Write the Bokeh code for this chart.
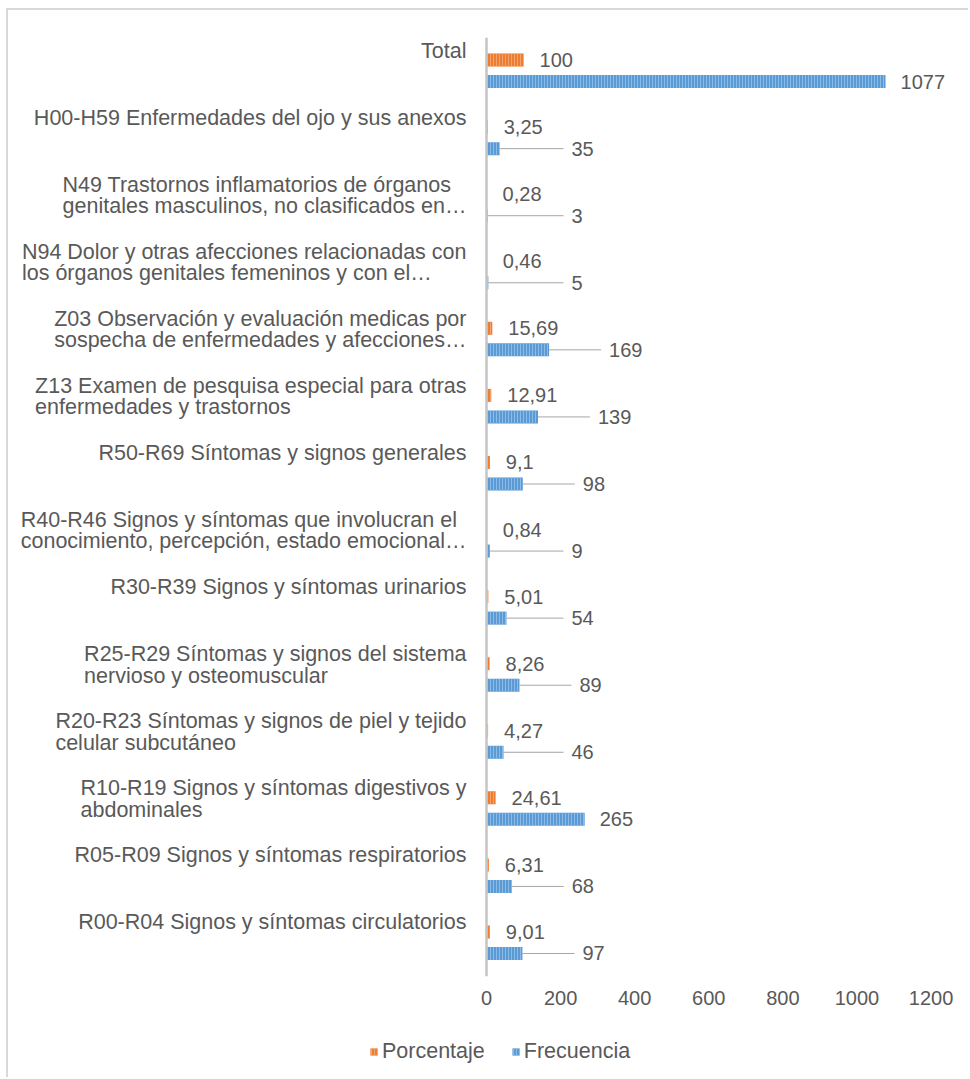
from bokeh.plotting import figure
from bokeh.layouts import column
from bokeh.models import (FactorRange, Range1d, FixedTicker, LinearAxis, Span,
                          Legend, LegendItem, ColumnDataSource)
from bokeh.transform import dodge
from bokeh.core.properties import value
from bokeh.embed import file_html
from bokeh.resources import INLINE

# ---------------- data (top to bottom as in the chart) ----------------
categories = [
    "Total",
    "H00-H59 Enfermedades del ojo y sus anexos",
    "N49 Trastornos inflamatorios de órganos\ngenitales masculinos, no clasificados en…",
    "N94 Dolor y otras afecciones relacionadas con\nlos órganos genitales femeninos y con el…",
    "Z03 Observación y evaluación medicas por\nsospecha de enfermedades y afecciones…",
    "Z13 Examen de pesquisa especial para otras\nenfermedades y trastornos",
    "R50-R69 Síntomas y signos generales",
    "R40-R46 Signos y síntomas que involucran el\nconocimiento, percepción, estado emocional…",
    "R30-R39 Signos y síntomas urinarios",
    "R25-R29 Síntomas y signos del sistema\nnervioso y osteomuscular",
    "R20-R23 Síntomas y signos de piel y tejido\ncelular subcutáneo",
    "R10-R19 Signos y síntomas digestivos y\nabdominales",
    "R05-R09 Signos y síntomas respiratorios",
    "R00-R04 Signos y síntomas circulatorios",
]
porcentaje = [100, 3.25, 0.28, 0.46, 15.69, 12.91, 9.1, 0.84, 5.01, 8.26, 4.27, 24.61, 6.31, 9.01]
frecuencia = [1077, 35, 3, 5, 169, 139, 98, 9, 54, 89, 46, 265, 68, 97]
x_ticks = [0, 200, 400, 600, 800, 1000, 1200]
series_names = ["Porcentaje", "Frecuencia"]

# ---------------- style ----------------
FONT = "Liberation Sans"
TEXT = "#595959"
ORANGE = "#ED7D31"
BLUE = "#5B9BD5"
ORANGE_HATCH = "#f5a36e"
BLUE_HATCH = "#8dbbe6"
UNITS_PER_PX = 1 / 0.3705

def fmt(v):
    return f"{v:g}".replace(".", ",")

# data label placement rules (in data units, derived from values)
pct_lx = [v + 16 * UNITS_PER_PX for v in porcentaje]
freq_lx, lead_x0, lead_x1 = [], [], []
for v in frecuencia:
    if v < 200:
        lx = max(85 * UNITS_PER_PX, v + 60 * UNITS_PER_PX)
        freq_lx.append(lx)
        lead_x0.append(v)
        lead_x1.append(lx - 8 * UNITS_PER_PX)
    else:
        freq_lx.append(v + 15 * UNITS_PER_PX)
        lead_x0.append(v)
        lead_x1.append(v)

src = ColumnDataSource(dict(
    cat=categories, pct=porcentaje, freq=frecuencia,
    pct_label=[fmt(v) for v in porcentaje], freq_label=[fmt(v) for v in frecuencia],
    pct_lx=pct_lx, freq_lx=freq_lx, lead_x0=lead_x0, lead_x1=lead_x1,
))

p = figure(frame_width=960, frame_height=939, output_backend="svg", toolbar_location=None,
           x_range=Range1d(-478 * UNITS_PER_PX, 482 * UNITS_PER_PX),
           y_range=FactorRange(factors=categories[::-1]),
           x_axis_location=None, y_axis_location=None,
           min_border_left=0, min_border_right=2, min_border_top=27, min_border_bottom=41)
p.grid.visible = False
p.outline_line_color = None
p.background_fill_color = "white"
p.border_fill_color = "white"

y_pct = dodge("cat", 0.164, range=p.y_range)
y_freq = dodge("cat", -0.157, range=p.y_range)

p.segment(x0="lead_x0", x1="lead_x1", y0=y_freq, y1=y_freq, source=src,
          line_color="#a6a6a6", line_width=1)

bar_pct = dict(fill_color=ORANGE, line_color=None, hatch_pattern="vertical_line",
               hatch_color=ORANGE_HATCH, hatch_scale=3, hatch_weight=1)
bar_freq = dict(fill_color=BLUE, line_color=None, hatch_pattern="vertical_line",
                hatch_color=BLUE_HATCH, hatch_scale=3, hatch_weight=1)

p.hbar(y=y_pct, left=0, right="pct", height=0.194, source=src, **bar_pct)
p.hbar(y=y_freq, left=0, right="freq", height=0.194, source=src, **bar_freq)

# y axis line at x = 0
p.add_layout(Span(location=0, dimension="height", line_color="#c4c4c4", line_width=2.5))

# category labels
p.text(x=0, y=dodge("cat", 0.5, range=p.y_range), text="cat", source=src,
       x_offset=-20, y_offset=1, anchor="top_right", text_align="left",
       text_font=value(FONT), text_font_size="21.5px", text_color=TEXT, text_line_height=0.89)

# data labels
p.text(x="pct_lx", y=y_pct, text="pct_label", source=src,
       text_align="left", text_baseline="middle",
       text_font=value(FONT), text_font_size="20px", text_color=TEXT)
p.text(x="freq_lx", y=y_freq, text="freq_label", source=src,
       text_align="left", text_baseline="middle",
       text_font=value(FONT), text_font_size="20px", text_color=TEXT)

# x axis (tick labels only)
xaxis = LinearAxis(ticker=FixedTicker(ticks=x_ticks))
xaxis.axis_line_color = None
xaxis.major_tick_line_color = None
xaxis.minor_tick_line_color = None
xaxis.major_label_text_font = FONT
xaxis.major_label_text_font_size = "20px"
xaxis.major_label_text_color = TEXT
xaxis.major_label_standoff = 8
p.add_layout(xaxis, "below")

# ---------------- legend strip ----------------
lg = figure(width=962, height=62, output_backend="svg", toolbar_location=None,
            x_range=Range1d(0, 1), y_range=FactorRange(factors=["legend"]),
            x_axis_location=None, y_axis_location=None,
            min_border_left=0, min_border_right=0, min_border_top=0, min_border_bottom=0)
lg.grid.visible = False
lg.outline_line_color = None
lg.border_fill_color = "white"
# zero-width carriers: they only provide the legend swatches
carrier = ColumnDataSource(dict(y=["legend"], v=[0]))
lr_pct = lg.hbar(y="y", left="v", right="v", height=0.1, source=carrier, **bar_pct)
lr_freq = lg.hbar(y="y", left="v", right="v", height=0.1, source=carrier, **bar_freq)
legend = Legend(items=[LegendItem(label=series_names[0], renderers=[lr_pct]),
                       LegendItem(label=series_names[1], renderers=[lr_freq])],
                orientation="horizontal", location=(361, 15),
                border_line_color=None, background_fill_alpha=0,
                label_text_font=FONT, label_text_font_size="21.5px", label_text_color=TEXT,
                glyph_width=9, glyph_height=9, label_standoff=4, spacing=26,
                padding=7, margin=0, label_height=20)
lg.add_layout(legend, "center")

layout = column(p, lg, spacing=0)
layout.margin = (10, 0, 0, 8)
layout.styles = {"box-shadow": "-2px -2px 0 0 #d9d9d9"}

open("out.html", "w").write(file_html(layout, INLINE))
